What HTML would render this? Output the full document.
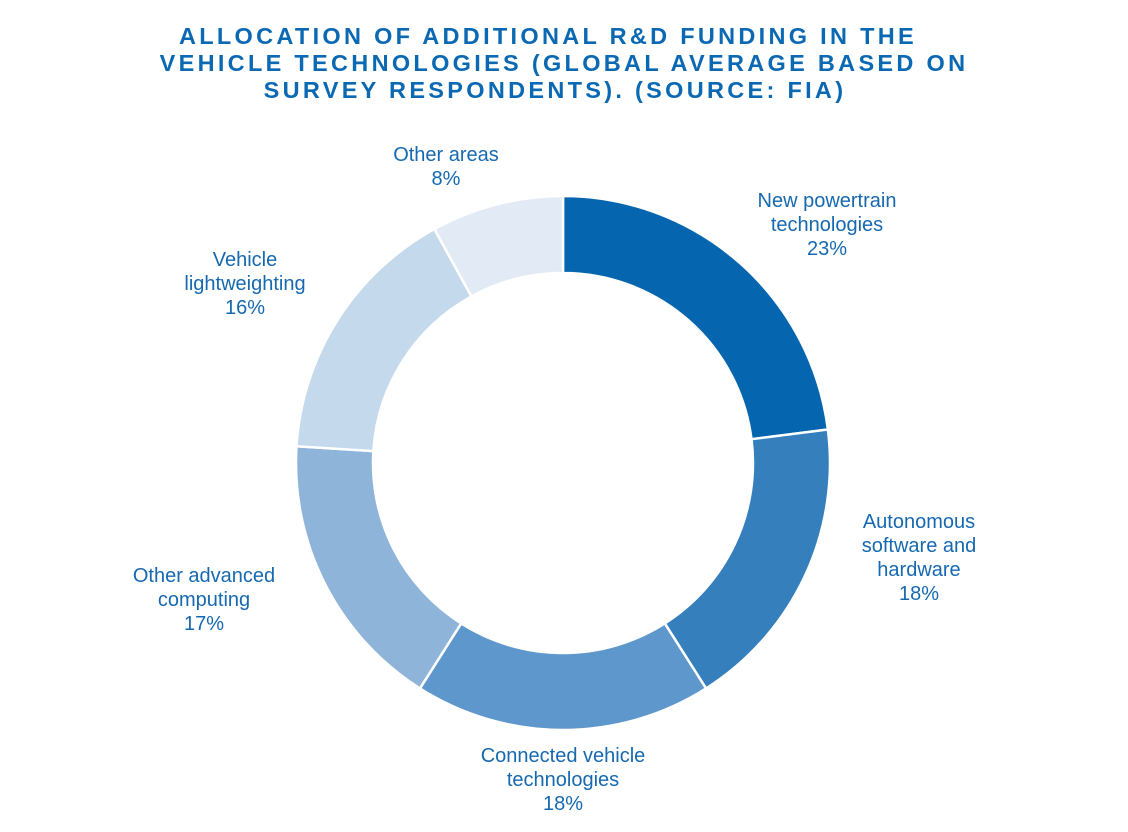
<!DOCTYPE html>
<html><head><meta charset="utf-8"><style>
body{margin:0;background:#fff;width:1128px;height:827px;overflow:hidden;font-family:"Liberation Sans",sans-serif}
</style></head><body>
<svg id="s" width="1128" height="827" viewBox="0 0 1128 827" xmlns="http://www.w3.org/2000/svg">
<g font-family="Liberation Sans, sans-serif" font-weight="bold" font-size="23.5" fill="#0b69b3" text-anchor="middle" letter-spacing="3.3">
<text x="548" y="44">ALLOCATION OF ADDITIONAL R&amp;D FUNDING IN THE</text>
<text x="564" y="71">VEHICLE TECHNOLOGIES (GLOBAL AVERAGE BASED ON</text>
<text x="555" y="98">SURVEY RESPONDENTS). (SOURCE: FIA)</text>
</g>
<g id="d"></g>
<g font-family="Liberation Sans, sans-serif" font-size="20" fill="#1669b0" text-anchor="middle">
<text x="446" y="161">Other areas</text><text x="446" y="185">8%</text>
<text x="827" y="207">New powertrain</text><text x="827" y="231">technologies</text><text x="827" y="255">23%</text>
<text x="245" y="266">Vehicle</text><text x="245" y="290">lightweighting</text><text x="245" y="314">16%</text>
<text x="919" y="528">Autonomous</text><text x="919" y="552">software and</text><text x="919" y="576">hardware</text><text x="919" y="600">18%</text>
<text x="204" y="582">Other advanced</text><text x="204" y="606">computing</text><text x="204" y="630">17%</text>
<text x="563" y="762">Connected vehicle</text><text x="563" y="786">technologies</text><text x="563" y="810">18%</text>
</g>
</svg>
<script>
var cx=563,cy=463,R=267,r=190,v=[23,18,18,17,16,8],c=["#0565ae","#357fbd","#5e97cc","#8fb4da","#c5d9ec","#e2ebf5"],a=0,h="";
function p(rad,ang){var t=ang/100*2*Math.PI;return (cx+rad*Math.sin(t)).toFixed(2)+","+(cy-rad*Math.cos(t)).toFixed(2);}
for(var i=0;i<6;i++){var b=a+v[i],l=v[i]>50?1:0;
h+='<path d="M'+p(R,a)+' A'+R+','+R+' 0 '+l+' 1 '+p(R,b)+' L'+p(r,b)+' A'+r+','+r+' 0 '+l+' 0 '+p(r,a)+' Z" fill="'+c[i]+'" stroke="#fff" stroke-width="2.5"/>';a=b;}
document.getElementById("d").innerHTML=h;
</script>
</body></html>
